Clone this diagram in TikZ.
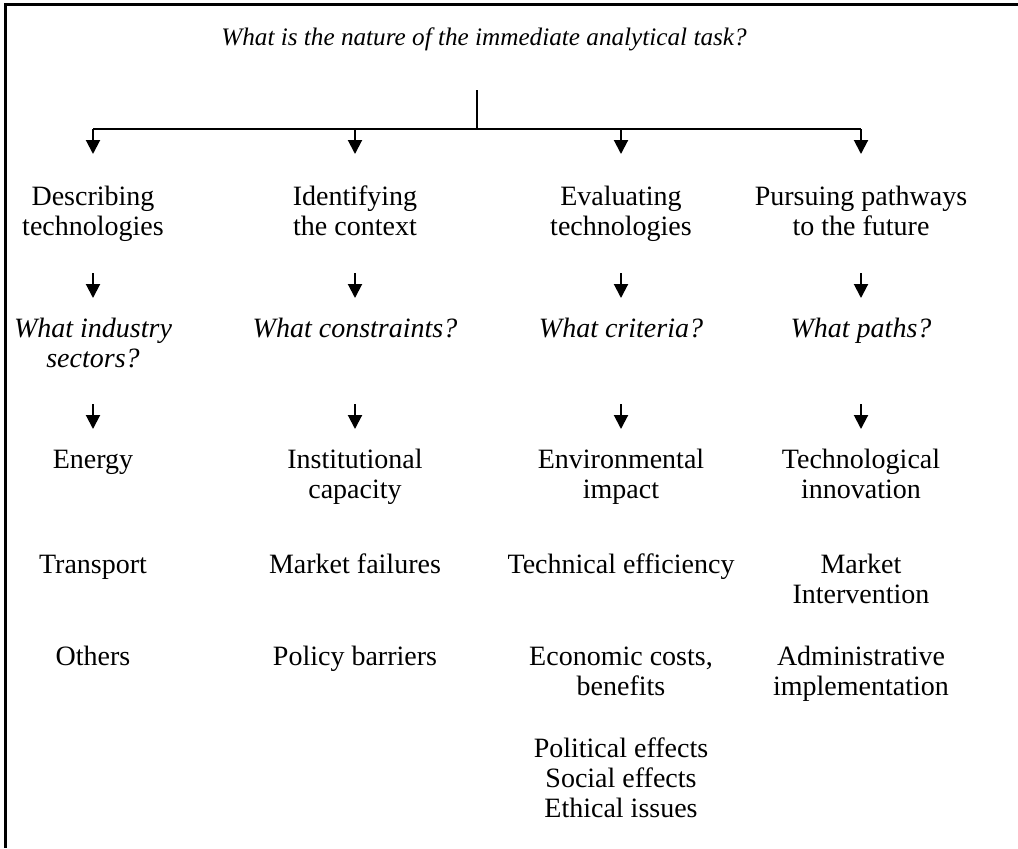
\documentclass[tikz,border=0pt]{standalone}
\usepackage{fontspec}
\setmainfont{Liberation Serif}
\usetikzlibrary{arrows.meta, positioning}

\begin{document}
\begin{tikzpicture}[
        x = 0.5pt, y = 0.5pt, % one unit is one pixel of the page
        > = {Triangle[length=7pt, width=7pt]}, % arrow head style
        line width = 1pt, % line style
        every node/.style = {
            inner sep = 0pt,
            align = center,
            anchor = base, % base of the last line
            font = \fontsize{14}{15}\selectfont
        },
        ask/.style = {font = \fontsize{14}{15}\selectfont\itshape}
    ]

    \fill[white] (0,0) rectangle (1018,-848);
    \useasboundingbox (0,0) rectangle (1018,-848);

    % frame, top and left side only
    \draw[line width = 1.5pt] (1018,-4) -- (5,-4) -- (5,-848);

    \node[ask, font = \fontsize{12.6}{15}\selectfont\itshape] (task) at (484,-45)
        {What is the nature of the immediate analytical task?};

    % column heads
    \node (h1) at (93,-235)  {Describing\\technologies};
    \node (h2) at (355,-235) {Identifying\\the context};
    \node (h3) at (621,-235) {Evaluating\\technologies};
    \node (h4) at (861,-235) {Pursuing pathways\\to the future};

    % questions
    \node[ask] (q1) at (93,-367)  {What industry\\sectors?};
    \node[ask] (q2) at (355,-337) {What constraints?};
    \node[ask] (q3) at (621,-337) {What criteria?};
    \node[ask] (q4) at (861,-337) {What paths?};

    % answers
    \node (e1) at (93,-468)  {Energy};
    \node (e2) at (355,-498) {Institutional\\capacity};
    \node (e3) at (621,-498) {Environmental\\impact};
    \node (e4) at (861,-498) {Technological\\innovation};

    \node (t1) at (93,-573)  {Transport};
    \node (t2) at (355,-573) {Market failures};
    \node (t3) at (621,-573) {Technical efficiency};
    \node (t4) at (861,-603) {Market\\Intervention};

    \node (o1) at (93,-665)  {Others};
    \node (o2) at (355,-665) {Policy barriers};
    \node (o3) at (621,-695) {Economic costs,\\benefits};
    \node (o4) at (861,-695) {Administrative\\implementation};

    \node (p3) at (621,-817) {Political effects\\Social effects\\Ethical issues};

    % tree below the task
    \coordinate (top) at (477,-90);
    \coordinate (split) at (477,-129);
    \draw (top) -- (split);
    \draw (h1 |- split) -- (h4 |- split);

    % levels of the arrows
    \coordinate (headtip) at (0,-154);
    \coordinate (askfrom) at (0,-273);
    \coordinate (asktip) at (0,-298);
    \coordinate (ansfrom) at (0,-404);
    \coordinate (anstip) at (0,-429);

    \foreach \n in {1,...,4} {
        \draw[->] (h\n |- split) -- (h\n |- headtip);
        \draw[->] (h\n |- askfrom) -- (h\n |- asktip);
        \draw[->] (h\n |- ansfrom) -- (h\n |- anstip);
    }

\end{tikzpicture}
\end{document}
